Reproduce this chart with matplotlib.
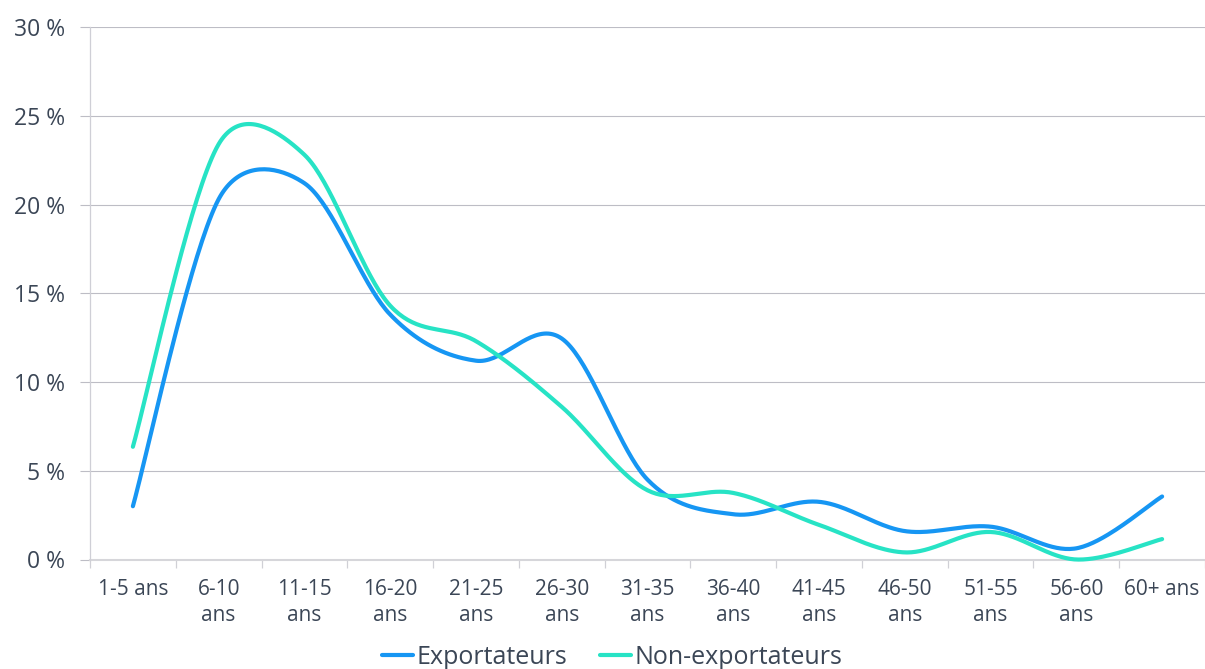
import numpy as np
import matplotlib
matplotlib.use("Agg")
import matplotlib.pyplot as plt
from matplotlib.ticker import FixedLocator, FuncFormatter

plt.rcParams['font.family'] = ['Open Sans', 'DejaVu Sans']

# Age of firm (years) and share of firms (%)
categories = ["1-5 ans", "6-10\nans", "11-15\nans", "16-20\nans", "21-25\nans",
              "26-30\nans", "31-35\nans", "36-40\nans", "41-45\nans", "46-50\nans",
              "51-55\nans", "56-60\nans", "60+ ans"]
exportateurs = [3.0, 20.3, 21.2, 13.8, 11.2, 12.45, 4.5, 2.55, 3.25, 1.6, 1.85, 0.63, 3.55]
non_exportateurs = [6.35, 23.4, 22.8, 14.3, 12.3, 8.6, 3.9, 3.75, 1.95, 0.4, 1.55, 0.0, 1.15]
series_names = ["Exportateurs", "Non-exportateurs"]
y_ticks = [0, 5, 10, 15, 20, 25, 30]

TEXT = '#3b4656'
GRID = '#bdbdc5'
BLUE = '#1696f3'
TEAL = '#27e3c5'

W, H = 1205, 669
fig = plt.figure(figsize=(W / 100, H / 100), dpi=100)
ax = fig.add_axes([90 / W, (H - 559.5) / H, (W - 90) / W, (559.5 - 27) / H])

n = len(categories)
ax.set_xlim(-0.5, n - 0.5)
ax.set_ylim(0, 30)


def smooth_line(ax, xs, ys, steps=40):
    """Spreadsheet-style smoothed line: cubic Bezier segments built in
    display space, control arms 1/6 of the neighbour span, capped at half
    the segment length."""
    pts = ax.transData.transform(np.column_stack([xs, ys]))
    m = len(pts)
    out = [pts[0]]
    t = np.linspace(0, 1, steps)[1:, None]
    for i in range(m - 1):
        p0 = pts[max(i - 1, 0)]
        p1 = pts[i]
        p2 = pts[i + 1]
        p3 = pts[min(i + 2, m - 1)]
        d12 = np.linalg.norm(p2 - p1)
        v1 = p2 - p0
        v2 = p3 - p1
        d02 = np.linalg.norm(v1)
        d13 = np.linalg.norm(v2)
        a1 = v1 / 6 if d02 / 6 < d12 / 2 else v1 * (d12 / 2) / d02
        a2 = v2 / 6 if d13 / 6 < d12 / 2 else v2 * (d12 / 2) / d13
        c1 = p1 + a1
        c2 = p2 - a2
        seg = ((1 - t) ** 3) * p1 + 3 * ((1 - t) ** 2) * t * c1 \
            + 3 * (1 - t) * t ** 2 * c2 + t ** 3 * p2
        out.extend(seg)
    out = np.array(out)
    data = ax.transData.inverted().transform(out)
    return data[:, 0], data[:, 1]


x = np.arange(n)
for vals, color, name in [(exportateurs, BLUE, series_names[0]),
                          (non_exportateurs, TEAL, series_names[1])]:
    sx, sy = smooth_line(ax, x, vals)
    ax.plot(sx, sy, color=color, lw=3.0, solid_capstyle='round',
            solid_joinstyle='round', label=name, zorder=3, clip_on=False)

# grid and axes styling
ax.yaxis.set_major_locator(FixedLocator(y_ticks))
ax.yaxis.set_major_formatter(FuncFormatter(lambda v, p: f"{int(v)} %"))
ax.grid(axis='y', color=GRID, lw=0.8, zorder=0)
ax.set_axisbelow(True)

ax.set_xticks(x)
ax.set_xticklabels(categories, fontsize=15, color=TEXT, linespacing=1.3)
ax.set_xticks(np.arange(-0.5, n, 1.0), minor=True)
ax.tick_params(axis='x', which='major', length=0, pad=14)
ax.tick_params(axis='x', which='minor', length=5.5, width=0.9, color='#d0d0d6')
ax.tick_params(axis='y', length=7.2, width=0.8, color=GRID, pad=10.5,
               labelsize=16.5, labelcolor=TEXT)

for side in ['top', 'right']:
    ax.spines[side].set_visible(False)
ax.spines['left'].set_color('#cfcfd6')
ax.spines['left'].set_linewidth(0.9)
ax.spines['bottom'].set_color('#d6d6da')
ax.spines['bottom'].set_linewidth(1.5)
ax.spines['bottom'].set_zorder(1)

handles, labels = ax.get_legend_handles_labels()
fig.legend(handles, labels, loc='center', bbox_to_anchor=(0.508, (H - 657) / H),
           ncol=2, frameon=False, fontsize=18, labelcolor=TEXT,
           handlelength=1.25, handletextpad=0.15, columnspacing=1.3,
           borderpad=0, borderaxespad=0)

fig.savefig('out.png', dpi=100, facecolor='white')
